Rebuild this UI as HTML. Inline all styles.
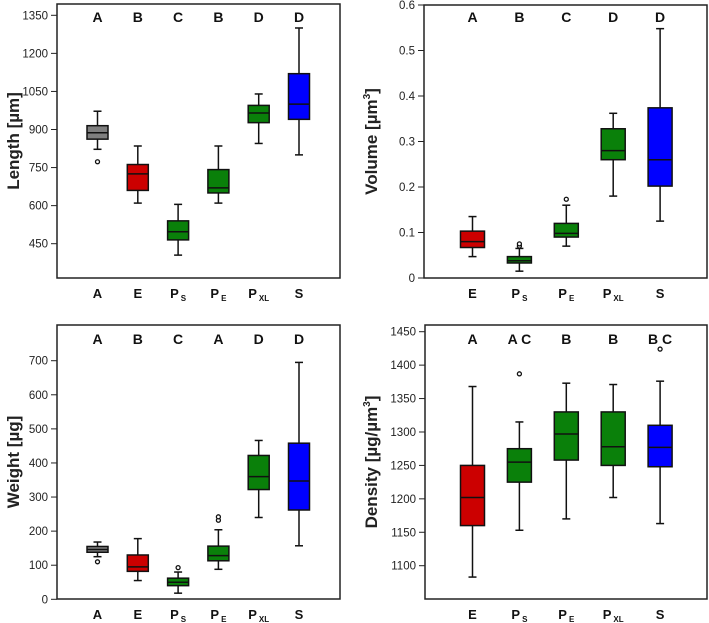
<!DOCTYPE html>
<html><head><meta charset="utf-8"><style>
body{margin:0;background:#fff}
svg{display:block;font-family:"Liberation Sans",sans-serif}
</style></head><body>
<svg id="c" width="709" height="623" viewBox="0 0 709 623"></svg>
<script>
// ---- data ----
const catsAll = ["A","E","PS","PE","PXL","S"];
const catsNoA = ["E","PS","PE","PXL","S"];
const colorsAll = ["#7f7f7f","#cc0000","#0a800a","#0a800a","#0a800a","#0000ff"];
const colorsNoA = ["#cc0000","#0a800a","#0a800a","#0a800a","#0000ff"];
// [min,q1,median,q3,max]
const lengthStats = [[822,862,887,915,972],[610,660,725,762,835],[405,465,497,540,605],[610,650,670,742,835],[845,927,965,995,1040],[800,940,1000,1120,1300]];
const lengthOut = [[773],[],[],[],[],[]];
const lengthLetters = ["A","B","C","B","D","D"];
const lengthTicks = [450,600,750,900,1050,1200,1350];
const volumeStats = [[0.047,0.067,0.08,0.103,0.135],[0.015,0.033,0.038,0.047,0.065],[0.07,0.09,0.098,0.12,0.16],[0.18,0.26,0.28,0.328,0.362],[0.125,0.202,0.26,0.374,0.548]];
const volumeOut = [[],[0.07,0.075],[0.173],[],[]];
const volumeLetters = ["A","B","C","D","D"];
const volumeTicks = [0,0.1,0.2,0.3,0.4,0.5,0.6];
const weightStats = [[125,138,146,155,168],[55,82,95,130,178],[18,40,50,62,80],[88,113,128,156,204],[240,322,360,422,466],[157,262,347,458,695]];
const weightOut = [[110],[],[93],[232,242],[],[]];
const weightLetters = ["A","B","C","A","D","D"];
const weightTicks = [0,100,200,300,400,500,600,700];
const densityStats = [[1083,1160,1202,1250,1368],[1153,1225,1255,1275,1315],[1170,1258,1297,1330,1373],[1202,1250,1278,1330,1371],[1163,1248,1277,1310,1376]];
const densityOut = [[],[1387],[],[],[1424]];
const densityLetters = ["A","AC","B","B","BC"];
const densityTicks = [1100,1150,1200,1250,1300,1350,1400,1450];

const NS="http://www.w3.org/2000/svg";
const svg=document.getElementById('c');
function mk(tag,attrs,parent,text){const e=document.createElementNS(NS,tag);for(const k in attrs)e.setAttribute(k,attrs[k]);if(text!==undefined)e.textContent=text;(parent||svg).appendChild(e);return e;}

function panel(o){
  const g=mk('g',{});
  
  
  const y=v=>o.y0+(v-o.v0)/(o.v1-o.v0)*(o.y1-o.y0);
  const x=i=>o.xStart+i*o.xStep;
  const fr=mk('rect',{x:o.L,y:o.T,width:o.R-o.L,height:o.B-o.T,fill:'none',stroke:'#222','stroke-width':1.5},g);
  
  o.ticks.forEach(t=>{
    const yy=y(t);
    const tl=mk('line',{x1:o.L-6,x2:o.L,y1:yy,y2:yy,stroke:'#222','stroke-width':1},g);
    
    const tx=mk('text',{x:o.L-9,y:yy+4,'text-anchor':'end','font-size':11.5,fill:'#222'},g,String(t));
    
  });
  const yt=mk('text',{transform:`translate(${o.titleX},${(o.T+o.B)/2}) rotate(-90)`,'text-anchor':'middle','font-size':17,'font-weight':'bold',fill:'#222'},g);
  
  yt.innerHTML=o.title;
  o.cats.forEach((c,i)=>{
    const cx=x(i), s=o.stats[i], w=o.bw, col=o.colors[i];
    const bg=mk('g',{},g);
    
    mk('line',{x1:cx,x2:cx,y1:y(s[0]),y2:y(s[1]),stroke:'#111','stroke-width':1.5},bg);
    mk('line',{x1:cx,x2:cx,y1:y(s[3]),y2:y(s[4]),stroke:'#111','stroke-width':1.5},bg);
    mk('line',{x1:cx-4,x2:cx+4,y1:y(s[0]),y2:y(s[0]),stroke:'#111','stroke-width':1.5},bg);
    mk('line',{x1:cx-4,x2:cx+4,y1:y(s[4]),y2:y(s[4]),stroke:'#111','stroke-width':1.5},bg);
    mk('rect',{x:cx-w/2,y:y(s[3]),width:w,height:y(s[1])-y(s[3]),fill:col,stroke:'#111','stroke-width':1.5},bg);
    mk('line',{x1:cx-w/2,x2:cx+w/2,y1:y(s[2]),y2:y(s[2]),stroke:'#111','stroke-width':1.5},bg);
    o.out[i].forEach(v=>{
      const p=mk('circle',{cx:cx,cy:y(v),r:2,fill:'#fff',stroke:'#111','stroke-width':1.3},bg);
      
    });
    const lt=mk('text',{x:cx,y:o.letterY,'text-anchor':'middle','font-size':14,'font-weight':'bold',fill:'#111'},g,o.letters[i].split('').join(' '));
    
    const ct=mk('text',{x:cx,y:o.catY,'text-anchor':'middle','font-size':13,'font-weight':'bold',fill:'#111'},g);
    
    if(c[0]==='P'){ct.innerHTML='P<tspan font-size="8" dy="3" dx="2">'+c.slice(1)+'</tspan>';}
    else ct.textContent=c;
  });
}
panel({name:'length-panel',L:57,R:340,T:4,B:278,v0:1350,v1:450,y0:15.3,y1:243.7,ticks:lengthTicks,cats:catsAll,colors:colorsAll,stats:lengthStats,out:lengthOut,letters:lengthLetters,xStart:97.5,xStep:40.3,bw:21,letterY:22,catY:298,titleX:19,title:'Length [µm]'});
panel({name:'volume-panel',L:424,R:707,T:5,B:278,v0:0.6,v1:0,y0:5,y1:278,ticks:volumeTicks,cats:catsNoA,colors:colorsNoA,stats:volumeStats,out:volumeOut,letters:volumeLetters,xStart:472.5,xStep:46.9,bw:24,letterY:22,catY:298,titleX:377,title:'Volume [µm<tspan font-size="10" dy="-7">3</tspan><tspan dy="7">]</tspan>'});
panel({name:'weight-panel',L:57,R:340,T:325,B:599,v0:700,v1:0,y0:360.7,y1:599.3,ticks:weightTicks,cats:catsAll,colors:colorsAll,stats:weightStats,out:weightOut,letters:weightLetters,xStart:97.5,xStep:40.3,bw:21,letterY:344,catY:619,titleX:19,title:'Weight [µg]'});
panel({name:'density-panel',L:425,R:707,T:325,B:599,v0:1450,v1:1100,y0:331.7,y1:565.7,ticks:densityTicks,cats:catsNoA,colors:colorsNoA,stats:densityStats,out:densityOut,letters:densityLetters,xStart:472.5,xStep:46.9,bw:24,letterY:344,catY:619,titleX:377,title:'Density [µg/µm<tspan font-size="10" dy="-7">3</tspan><tspan dy="7">]</tspan>'});
</script>
</body></html>
